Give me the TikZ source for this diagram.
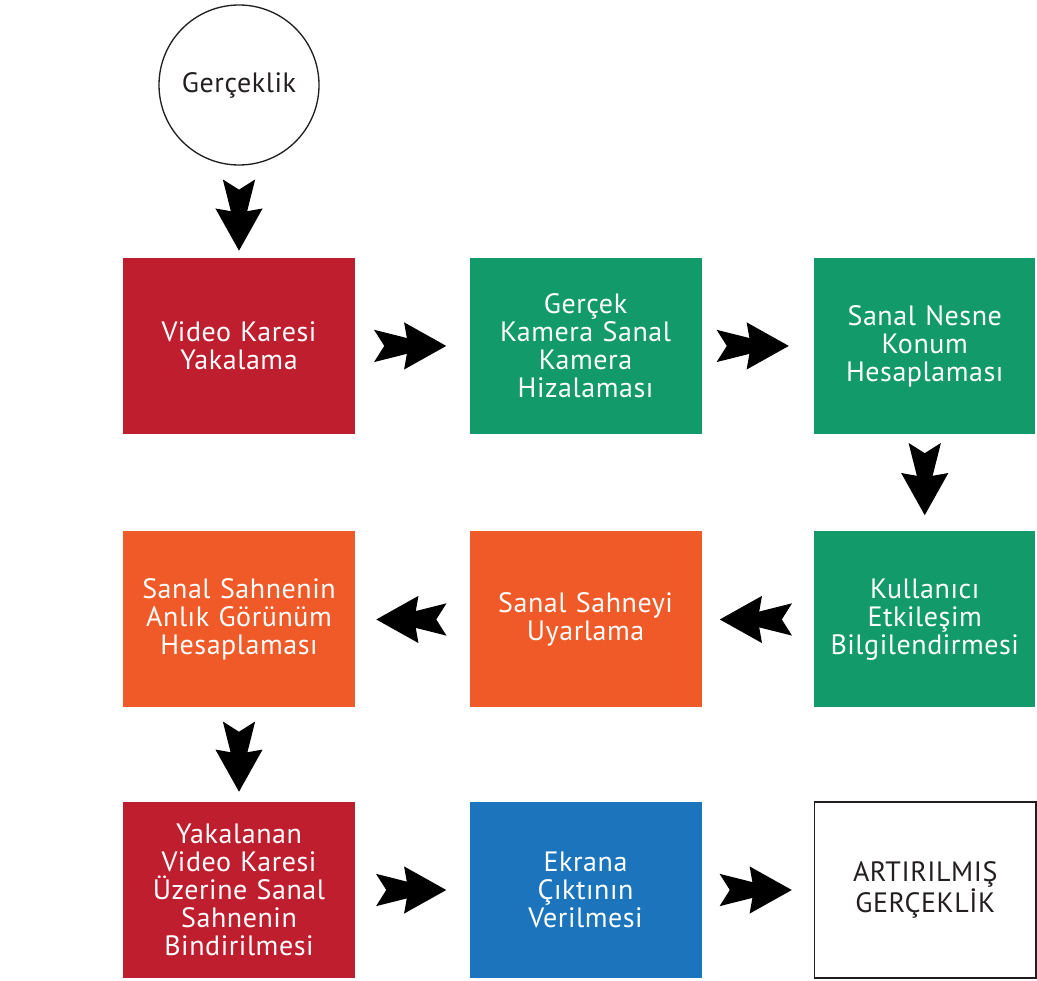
\documentclass[tikz,border=0pt]{standalone}
\usepackage{fontspec}
\setmainfont{PT Sans}[LetterSpace=2]
\usetikzlibrary{positioning,arrows.meta}

\definecolor{kirmizi}{HTML}{BE1E2D}
\definecolor{yesil}{HTML}{129A6A}
\definecolor{turuncu}{HTML}{F05A28}
\definecolor{mavi}{HTML}{1C75BC}
\definecolor{yazi}{HTML}{231F20}

\tikzset{
  adim/.style={rectangle, minimum width=174pt, minimum height=132pt,
    text width=172pt, align=center, inner sep=0pt, text=white,
    font=\fontsize{21}{21}\selectfont},
  sagsutun/.style={minimum width=166pt, text width=166pt},
  akis/.style={line width=2pt,
    {Stealth[reversed,length=48pt,width=24pt,inset=7.5pt]}-{Stealth[length=31.5pt,width=35pt,inset=3pt]},
    shorten <=14.25pt, shorten >=17.25pt},
}

\begin{document}
\begin{tikzpicture}
  \useasboundingbox (0,0) rectangle (777.75pt,-735pt);

  \node[circle, draw=yazi, line width=1pt, minimum size=120pt, text=yazi,
    font=\fontsize{21}{21}\selectfont] (gercek) at (179.25pt,-63.75pt) {Gerçeklik};

  % ilk satir
  \node[adim, fill=kirmizi, below=69pt of gercek] (video) {Video Karesi\\Yakalama};
  \node[adim, fill=yesil, right=85.5pt of video] (kamera) {Gerçek\\Kamera Sanal\\Kamera\\Hizalaması};
  \node[adim, sagsutun, fill=yesil, right=84pt of kamera] (nesne) {Sanal Nesne\\Konum\\Hesaplaması};

  % ikinci satir
  \node[adim, sagsutun, fill=yesil, below=72.75pt of nesne] (kullanici) {Kullanıcı\\Etkileşim\\Bilgilendirmesi};
  \node[adim, fill=turuncu, left=84pt of kullanici] (uyarla) {Sanal Sahneyi\\Uyarlama};
  \node[adim, fill=turuncu, left=85.5pt of uyarla] (anlik) {Sanal Sahnenin\\Anlık Görünüm\\Hesaplaması};

  % ucuncu satir
  \node[adim, fill=kirmizi, below=70.5pt of anlik] (bindir) {Yakalanan\\Video Karesi\\Üzerine Sanal\\Sahnenin\\Bindirilmesi};
  \node[adim, fill=mavi, right=85.5pt of bindir] (ekran) {Ekrana\\Çıktının\\Verilmesi};
  \node[adim, sagsutun, fill=white, draw=yazi, line width=1.2pt, text=yazi,
    right=84pt of ekran] (artirilmis) {ARTIRILMIŞ\\GERÇEKLİK};

  % oklar
  \draw[akis, shorten <=10.5pt, shorten >=5.25pt] (gercek) -- (video);
  \draw[akis] (video) -- (kamera);
  \draw[akis, shorten <=11.25pt, shorten >=18.75pt] (kamera) -- (nesne);
  \draw[akis, shorten <=6.75pt, shorten >=12pt] (nesne) -- (kullanici);
  \draw[akis, shorten <=16.5pt, shorten >=13.5pt] (kullanici) -- (uyarla);
  \draw[akis, shorten <=17.25pt, shorten >=15.75pt] (uyarla) -- (anlik);
  \draw[akis, shorten <=10.5pt, shorten >=7.5pt] (anlik) -- (bindir);
  \draw[akis, shorten <=15.75pt] (bindir) -- (ekran);
  \draw[akis, shorten <=13.5pt, shorten >=16.5pt] (ekran) -- (artirilmis);
\end{tikzpicture}
\end{document}
